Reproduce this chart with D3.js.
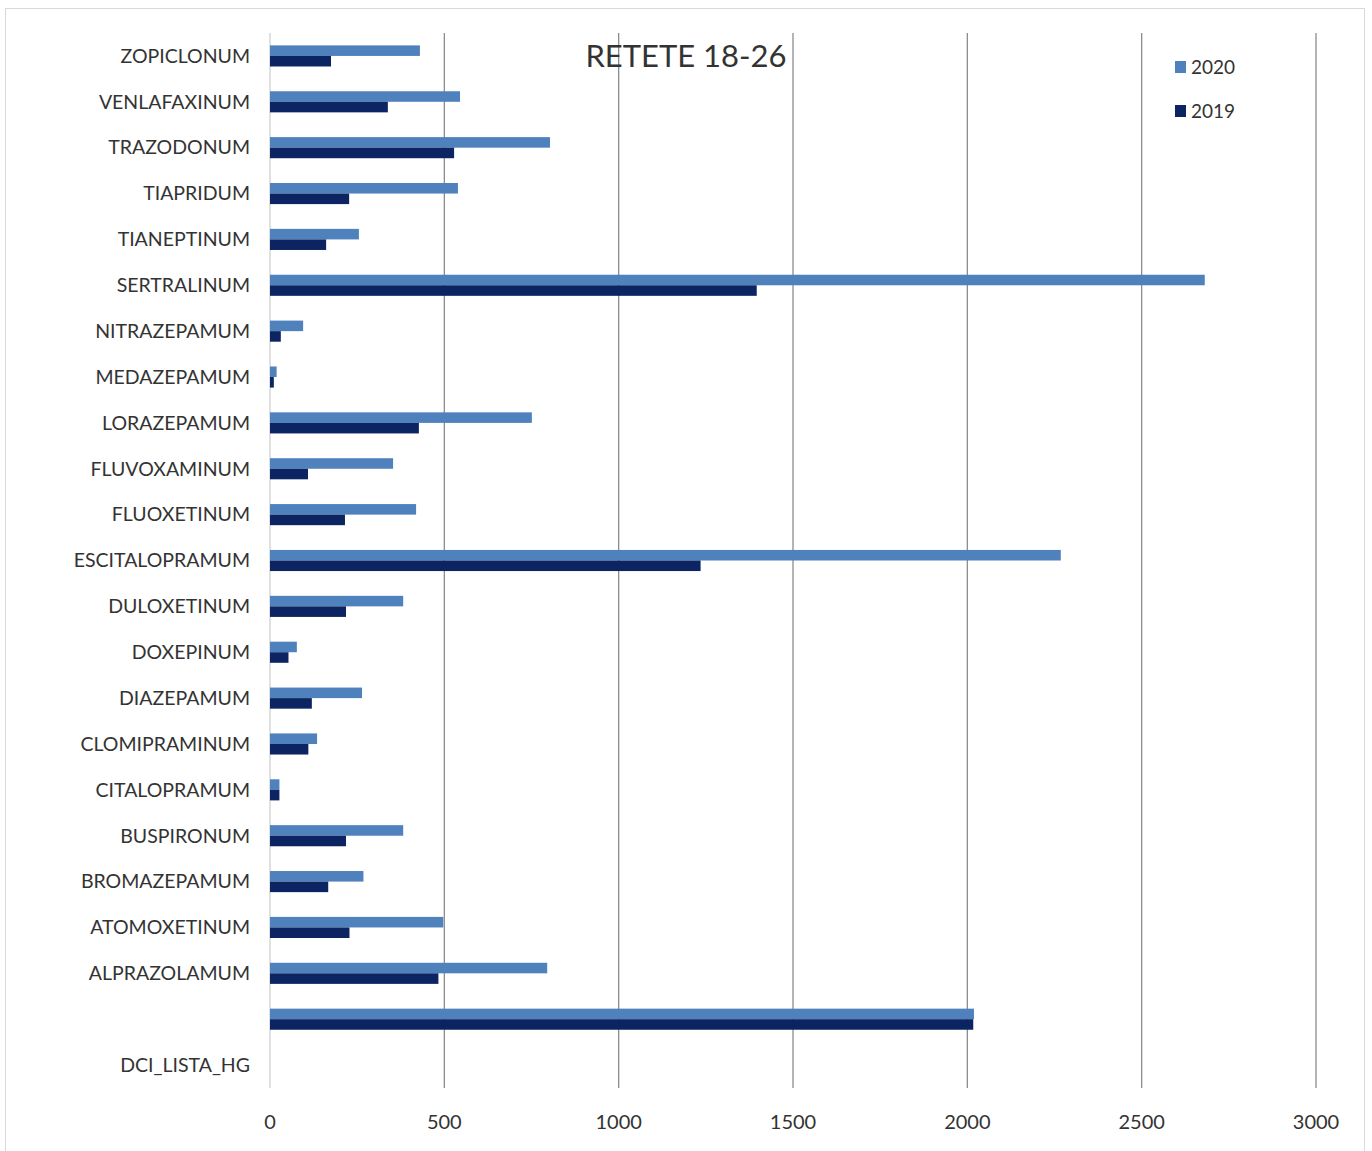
<!DOCTYPE html>
<html>
<head>
<meta charset="utf-8">
<script src="https://cdn.jsdelivr.net/npm/d3@7"></script>
<style>
  body { margin: 0; background: #fff; }
  text { font-family: Lato, "Open Sans", sans-serif; fill: #333; }
</style>
</head>
<body>
<div id="chart"></div>
<script>
// categories, top to bottom as drawn
var categories = ["ZOPICLONUM", "VENLAFAXINUM", "TRAZODONUM", "TIAPRIDUM", "TIANEPTINUM",
  "SERTRALINUM", "NITRAZEPAMUM", "MEDAZEPAMUM", "LORAZEPAMUM", "FLUVOXAMINUM",
  "FLUOXETINUM", "ESCITALOPRAMUM", "DULOXETINUM", "DOXEPINUM", "DIAZEPAMUM",
  "CLOMIPRAMINUM", "CITALOPRAMUM", "BUSPIRONUM", "BROMAZEPAMUM", "ATOMOXETINUM",
  "ALPRAZOLAMUM", "", "DCI_LISTA_HG"];

var values2020 = [430, 545, 803, 539, 255, 2681, 95, 19, 751, 353, 419, 2268, 382, 77,
  264, 135, 27, 382, 268, 497, 795, 2019, null];
var values2019 = [175, 338, 528, 227, 161, 1396, 31, 11, 427, 109, 215, 1235, 218, 53,
  120, 110, 27, 218, 167, 228, 483, 2017, null];

var seriesNames = ["2020", "2019"];
var seriesColors = ["#4f81bd", "#0c2461"];
var xTicks = [0, 500, 1000, 1500, 2000, 2500, 3000];
var title = "RETETE 18-26";

var W = 1372, H = 1151;
var margin = {top: 33, right: 56, bottom: 63, left: 270},
    width = 1316 - margin.left,
    height = 1088 - margin.top;

var svg = d3.select("#chart")
  .append("svg")
    .attr("width", W)
    .attr("height", H);

// outer frame
svg.append("rect")
  .attr("x", 5.5).attr("y", 8.5)
  .attr("width", 1359).attr("height", 1150)
  .attr("fill", "none")
  .attr("stroke", "#d9d9d9");

var g = svg.append("g")
  .attr("transform", "translate(" + margin.left + "," + margin.top + ")");

var x = d3.scaleLinear()
  .domain([0, 3000])
  .range([0, width]);

var y = d3.scaleBand()
  .domain(categories.map(function(d, i) { return i; }))
  .range([0, height])
  .paddingInner(0.54)
  .paddingOuter(0.27);

var ySub = d3.scaleBand()
  .domain([0, 1])
  .range([0, y.bandwidth()]);

// grid lines
g.selectAll(".grid")
  .data(xTicks.slice(1))
  .enter().append("line")
    .attr("x1", function(d) { return x(d); })
    .attr("x2", function(d) { return x(d); })
    .attr("y1", 0)
    .attr("y2", height)
    .attr("stroke", "#8c8c8c")
    .attr("stroke-width", 1.3);

// axis line at zero
g.append("line")
  .attr("x1", 0).attr("x2", 0)
  .attr("y1", 0).attr("y2", height)
  .attr("stroke", "#d0d0d0")
  .attr("stroke-width", 1.3);

// bars
var series = [values2020, values2019];
series.forEach(function(vals, s) {
  g.selectAll(".bar" + s)
    .data(vals.map(function(v, i) { return {i: i, v: v}; }).filter(function(d) { return d.v != null; }))
    .enter().append("rect")
      .attr("x", x(0))
      .attr("y", function(d) { return y(d.i) + ySub(s); })
      .attr("width", function(d) { return x(d.v) - x(0); })
      .attr("height", ySub.bandwidth())
      .attr("fill", seriesColors[s]);
});

// category labels
g.selectAll(".cat")
  .data(categories)
  .enter().append("text")
    .attr("x", -20)
    .attr("y", function(d, i) { return y(i) + y.bandwidth() / 2; })
    .attr("dy", "0.35em")
    .attr("text-anchor", "end")
    .style("font-size", "19.5px")
    .text(function(d) { return d; });

// x tick labels
g.selectAll(".tick-label")
  .data(xTicks)
  .enter().append("text")
    .attr("x", function(d) { return x(d); })
    .attr("y", height + 34)
    .attr("dy", "0.35em")
    .attr("text-anchor", "middle")
    .style("font-size", "20px")
    .text(function(d) { return d; });

// title
svg.append("text")
  .attr("x", 686)
  .attr("y", 56)
  .attr("dy", "0.35em")
  .attr("text-anchor", "middle")
  .style("font-size", "31px")
  .text(title);

// legend
var legend = svg.append("g")
  .attr("transform", "translate(1175,67)");
seriesNames.forEach(function(name, i) {
  legend.append("rect")
    .attr("x", 0)
    .attr("y", i * 44 - 6)
    .attr("width", 11)
    .attr("height", 12)
    .attr("fill", seriesColors[i]);
  legend.append("text")
    .attr("x", 16)
    .attr("y", i * 44)
    .attr("dy", "0.35em")
    .style("font-size", "19px")
    .text(name);
});
</script>
</body>
</html>
